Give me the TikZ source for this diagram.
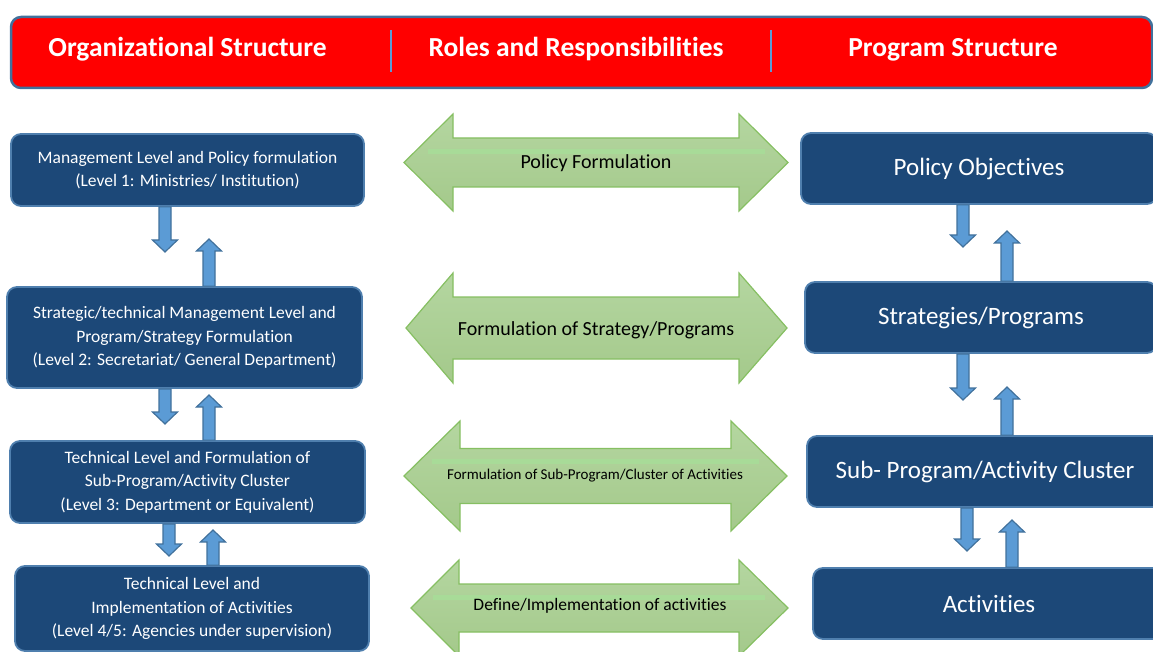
\documentclass[tikz,border=0pt]{standalone}
\usepackage{fontspec}
\setmainfont{Carlito}[Ligatures=CommonOff]
\usetikzlibrary{calc}

\definecolor{hdrred}{HTML}{FF0000}
\definecolor{hdrline}{HTML}{41719C}
\definecolor{boxfill}{HTML}{1C4878}
\definecolor{boxline}{HTML}{4F7FAE}
\definecolor{barfill}{HTML}{5B9BD5}
\definecolor{barline}{HTML}{41719C}
\definecolor{gartop}{HTML}{B4D6A0}
\definecolor{garbot}{HTML}{A4C98B}
\definecolor{garline}{HTML}{86BF62}
\definecolor{garband}{HTML}{A8DB98}

\tikzset{
  hdr/.style={draw=hdrline, line width=2.5pt, fill=hdrred, rounded corners=10pt},
  hdrtext/.style={text=white, inner sep=0pt, font=\fontsize{27.5}{30}\selectfont\bfseries},
  sep/.style={draw=barfill, line width=1.5pt},
  lbox/.style={draw=boxline, line width=1.8pt, fill=boxfill, rounded corners=10pt,
    text=white, align=center, inner sep=0pt,
    font=\fontsize{17.5}{23.5}\selectfont},
  rbox/.style={lbox, font=\fontsize{25}{28}\selectfont},
  barrow/.style={draw=barline, line width=1.2pt, fill=barfill, line join=miter},
  garrow/.style={draw=garline, line width=1.2pt, top color=gartop, bottom color=garbot},
  gband/.style={fill=garband, draw=none},
  gtext/.style={text=black, inner sep=0pt},
}

% vertical block arrows: #1 start on a box, #2 tip coordinate
\newcommand\arrowdn[2]{%
  \draw[barrow] ($(#1)+(-6,0)$) -- ($(#2)+(-6,-12)$) -- ($(#2)+(-12.5,-12)$) -- (#2)
    -- ($(#2)+(12.5,-12)$) -- ($(#2)+(6,-12)$) -- ($(#1)+(6,0)$) -- cycle;}
\newcommand\arrowup[2]{%
  \draw[barrow] ($(#1)+(-6,0)$) -- ($(#2)+(-6,12)$) -- ($(#2)+(-12.5,12)$) -- (#2)
    -- ($(#2)+(12.5,12)$) -- ($(#2)+(6,12)$) -- ($(#1)+(6,0)$) -- cycle;}

% horizontal double block arrow:
% #1 left tip x, #2 left head base x, #3 right head base x, #4 right tip x,
% #5 centre y, #6 half shaft height, #7 half head height
\newcommand\dblarrow[7]{%
  \draw[garrow] (#1,#5) -- (#2,#5-#7) -- (#2,#5-#6) -- (#3,#5-#6) -- (#3,#5-#7)
    -- (#4,#5) -- (#3,#5+#7) -- (#3,#5+#6) -- (#2,#5+#6) -- (#2,#5+#7) -- cycle;}

\begin{document}
\begin{tikzpicture}[x=1pt, y=-1pt]
  \useasboundingbox (0,0) rectangle (1153,652);
  \clip (0,0) rectangle (1153,652);

  % header bar
  \draw[hdr] (11,17) rectangle (1152,88);
  \draw[sep] (391,30) -- (391,72);
  \draw[sep] (771,30) -- (771,72);
  \node[hdrtext] (h1) at (187.5,49.5) {Organizational Structure};
  \node[hdrtext] (h2) at (576,49.5) {Roles and Responsibilities};
  \node[hdrtext] (h3) at (953,49.5) {Program Structure};

  % organizational levels
  \node[lbox, minimum width=353pt, minimum height=72pt] (L1) at (187.5,170)
    {Management Level and Policy formulation\\(Level 1: Ministries/ Institution)};
  \node[lbox, minimum width=355pt, minimum height=101pt] (L2) at (184.5,337.5)
    {Strategic/technical Management Level and\\Program/Strategy Formulation\\(Level 2: Secretariat/ General Department)};
  \node[lbox, minimum width=355pt, minimum height=82pt] (L3) at (187.5,482)
    {Technical Level and Formulation of\\Sub-Program/Activity Cluster\\(Level 3: Department or Equivalent)};
  \node[lbox, minimum width=354pt, minimum height=85pt] (L4) at (192,608.5)
    {Technical Level and\\Implementation of Activities\\(Level 4/5: Agencies under supervision)};

  % program levels
  \node[rbox, minimum width=356pt, minimum height=71pt] (R1) at (979,168.5) {Policy Objectives};
  \node[rbox, minimum width=352pt, minimum height=71pt] (R2) at (981,317.5) {Strategies/Programs};
  \node[rbox, minimum width=356pt, minimum height=71pt] (R3) at (985,471.5) {Sub- Program/Activity Cluster};
  \node[rbox, minimum width=352pt, minimum height=71pt] (R4) at (989,603.5) {Activities};

  % free ends of the vertical arrows
  \coordinate (d1) at (165,252);
  \coordinate (u1) at (209,239);
  \coordinate (d2) at (165,424);
  \coordinate (u2) at (209,395);
  \coordinate (d3) at (169,556);
  \coordinate (u3) at (213,530);
  \coordinate (d4) at (963,247);
  \coordinate (u4) at (1007,231);
  \coordinate (d5) at (963,400);
  \coordinate (u5) at (1007,387);
  \coordinate (d6) at (967,551);
  \coordinate (u6) at (1012,520);

  \arrowdn{L1.south -| d1}{d1}
  \arrowup{L2.north -| u1}{u1}
  \arrowdn{L2.south -| d2}{d2}
  \arrowup{L3.north -| u2}{u2}
  \arrowdn{L3.south -| d3}{d3}
  \arrowup{L4.north -| u3}{u3}
  \arrowdn{R1.south -| d4}{d4}
  \arrowup{R2.north -| u4}{u4}
  \arrowdn{R2.south -| d5}{d5}
  \arrowup{R3.north -| u5}{u5}
  \arrowdn{R3.south -| d6}{d6}
  \arrowup{R4.north -| u6}{u6}

  % roles: double arrows between the two columns
  \dblarrow{404}{453}{739}{788}{162.5}{24.5}{48.5}
  \fill[gband] (428,149) rectangle (765,154);
  \node[gtext, font=\fontsize{20}{22}\selectfont] (G1) at (596,163) {Policy Formulation};

  \dblarrow{406}{453}{739}{787}{328}{31}{55}
  \node[gtext, font=\fontsize{20}{22}\selectfont] (G2) at (596,330) {Formulation of Strategy/Programs};

  \dblarrow{404}{460}{731}{787}{476}{27.5}{55}
  \fill[gband] (432,459) rectangle (759,464);
  \node[gtext, font=\fontsize{15}{17}\selectfont] (G3) at (595,476) {Formulation of Sub-Program/Cluster of Activities};

  \dblarrow{411}{459}{739}{788}{608}{24}{48}
  \fill[gband] (433,595) rectangle (765,600);
  \node[gtext, font=\fontsize{17.5}{20}\selectfont] (G4) at (600,606) {Define/Implementation of activities};
\end{tikzpicture}
\end{document}
